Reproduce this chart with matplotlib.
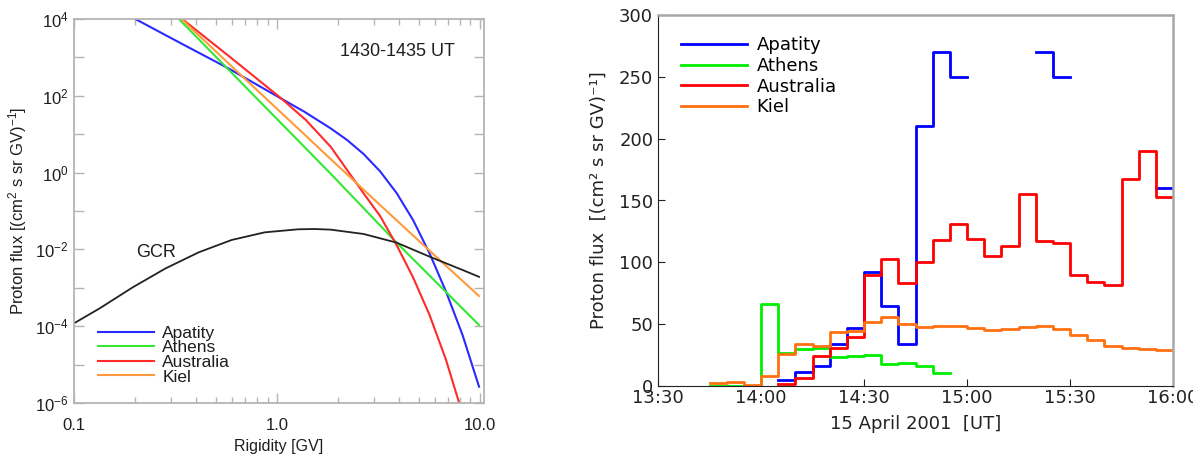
import numpy as np
import pandas as pd
import matplotlib
matplotlib.use("Agg")
import matplotlib.pyplot as plt
import matplotlib.dates as mdates
from matplotlib.ticker import FixedLocator, FuncFormatter, NullFormatter

# ---------------- spectra (left panel) ----------------
apatity_R = [0.2006, 0.3414, 0.5768, 1.011, 1.365, 1.841, 2.220, 2.677, 3.228,
             3.893, 4.693, 5.659, 6.826, 8.231, 9.925]
apatity_F = [1e4, 2234, 519, 94.9, 38.6, 14.2, 7.06, 3.05, 1.08,
             0.294, 0.0583, 7.9e-3, 7.9e-4, 5.9e-5, 2.66e-6]

athens_R = [0.3289, 1.841, 3.893, 9.925]
athens_F = [1e4, 0.937, 0.01496, 1.07e-4]

australia_R = [0.3414, 0.4437, 0.5986, 0.7929, 1.050, 1.390, 1.841, 2.220, 2.677,
               3.228, 3.893, 4.693, 5.659, 6.826, 7.930]
australia_F = [1e4, 3334, 946, 285, 85.9, 23.4, 4.73, 1.169, 0.288,
               0.0741, 0.0130, 1.87e-3, 1.96e-4, 1.32e-5, 9.8e-7]

kiel_R = [0.3389, 0.5986, 1.050, 1.841, 3.228, 5.659, 9.925]
kiel_F = [1e4, 585, 36.4, 2.26, 0.143, 9.27e-3, 6.1e-4]

gcr_R = [0.100, 0.1339, 0.1948, 0.2831, 0.4118, 0.5986, 0.8705, 1.266, 1.527,
         1.841, 2.677, 3.893, 5.659, 8.231, 9.925]
gcr_F = [1.19e-4, 2.92e-4, 1.03e-3, 3.21e-3, 8.39e-3, 0.0176, 0.0278, 0.0333, 0.0340,
         0.0327, 0.0252, 0.0150, 6.48e-3, 2.91e-3, 1.93e-3]

# ---------------- time profiles (right panel), 5-min bins ----------------
bin_start = pd.date_range("2001-04-15 13:45", "2001-04-15 15:55", freq="5min")
nan = np.nan
apatity_t = [nan, nan, nan, nan, 5, 11, 16, 34, 47, 92, 65, 34, 210, 270, 250,
             nan, nan, nan, nan, 270, 250, nan, nan, nan, nan, nan, 160]
athens_t = [0.3, 0.3, 0.3, 66, 27, 30, 31, 23.5, 24, 25, 18, 18.5, 16, 10.8,
            nan, nan, nan, nan, nan, nan, nan, nan, nan, nan, nan, nan, nan]
australia_t = [nan, nan, nan, nan, 1.5, 6.5, 24, 31, 39.5, 90, 103, 83, 100, 118,
               131, 118.5, 105, 113.5, 155.5, 117, 116, 90, 84, 82, 167, 190, 153]
kiel_t = [2.2, 3.2, 0.5, 8, 25.5, 34, 32, 43.5, 44.5, 52, 55.5, 50, 48, 48.8,
          48.2, 46.6, 45.3, 45.8, 47.7, 48.2, 46.4, 41.5, 37.2, 32.6, 31, 30, 28.8]

stations = ["Apatity", "Athens", "Australia", "Kiel"]
left_colors = ["#2a2aff", "#33e833", "#ff2a2a", "#ff9a3c"]
right_colors = ["#0000ff", "#00ee00", "#ff0000", "#ff7010"]

fig = plt.figure(figsize=(11.93, 4.57), dpi=100)

# ===================== left: rigidity spectra =====================
plt.rcParams["mathtext.fontset"] = "custom"
plt.rcParams["mathtext.rm"] = "Liberation Sans"
plt.rcParams["mathtext.it"] = "Liberation Sans:italic"
plt.rcParams["mathtext.bf"] = "Liberation Sans:bold"

sans = "Liberation Sans"
txt = "#1e1e1e"
frame = "#b4b4b4"

axL = fig.add_axes([74 / 1193, 1 - 403 / 457, 410 / 1193, 384 / 457])
for R, F, c, lab in zip([apatity_R, athens_R, australia_R, kiel_R],
                        [apatity_F, athens_F, australia_F, kiel_F],
                        left_colors, stations):
    axL.plot(R, F, color=c, lw=1.5, label=lab)
axL.plot(gcr_R, gcr_F, color="#222222", lw=1.3)

axL.set_xscale("log")
axL.set_yscale("log")
axL.set_xlim(0.1, 10.5)
axL.set_ylim(1e-6, 1e4)
for s in axL.spines.values():
    s.set_color(frame)
    s.set_linewidth(1.3)

axL.xaxis.set_major_locator(FixedLocator([0.1, 1.0, 10.0]))
axL.xaxis.set_major_formatter(FuncFormatter(lambda v, p: f"{v:.1f}"))
axL.xaxis.set_minor_locator(FixedLocator([k * 10.0 ** e for e in (-1, 0) for k in range(2, 10)]))
axL.xaxis.set_minor_formatter(NullFormatter())
axL.yaxis.set_major_locator(FixedLocator([10.0 ** e for e in range(-6, 5)]))
axL.yaxis.set_major_formatter(FuncFormatter(
    lambda v, p: ("10$^{%d}$" % round(np.log10(v))) if round(np.log10(v)) % 2 == 0 else ""))
axL.yaxis.set_minor_locator(FixedLocator([]))
axL.tick_params(which="both", direction="in", top=True, right=True, colors=frame,
                labelcolor=txt, labelsize=12)
axL.tick_params(which="major", length=7, width=1.0)
axL.tick_params(which="minor", length=4, width=1.0)
for lbl in axL.get_xticklabels() + axL.get_yticklabels():
    lbl.set_family(sans)
axL.tick_params(axis="x", pad=11)
axL.tick_params(axis="y", pad=4)

axL.set_xlabel("Rigidity [GV]", family=sans, fontsize=11.5, color=txt, labelpad=4)
axL.set_ylabel("Proton flux [(cm$^{2}$ s sr GV)$^{-1}$]", family=sans, fontsize=12,
               color=txt, labelpad=4)
axL.text(0.79, 0.915, "1430-1435 UT", transform=axL.transAxes, family=sans,
         fontsize=13, color=txt, ha="center", va="center")
axL.text(0.2, 0.393, "GCR", transform=axL.transAxes, family=sans,
         fontsize=13, color=txt, ha="center", va="center")
legL = axL.legend(loc="lower left", bbox_to_anchor=(0.042, 0.03), frameon=False,
                  prop={"family": sans, "size": 12.5}, handlelength=3.2,
                  handletextpad=0.5, labelspacing=-0.03, borderaxespad=0)
for t in legL.get_texts():
    t.set_color(txt)

# ===================== right: time profiles =====================
axR = fig.add_axes([658 / 1193, 1 - 386 / 457, 515 / 1193, 371 / 457])
edges = list(bin_start) + [bin_start[-1] + pd.Timedelta(minutes=5)]
for vals, c, lab in zip([apatity_t, athens_t, australia_t, kiel_t], right_colors, stations):
    y = list(vals) + [vals[-1]]
    axR.step(edges, y, where="post", color=c, lw=2.0, label=lab)

axR.set_xlim(pd.Timestamp("2001-04-15 13:30"), pd.Timestamp("2001-04-15 16:00"))
axR.set_ylim(0, 300)
axR.xaxis.set_major_locator(mdates.MinuteLocator(byminute=[0, 30]))
axR.xaxis.set_major_formatter(mdates.DateFormatter("%H:%M"))
axR.yaxis.set_major_locator(FixedLocator([0, 50, 100, 150, 200, 250, 300]))
axR.tick_params(direction="in", length=5, labelsize=13, colors="#222222")
axR.tick_params(axis="x", pad=2)
axR.spines["left"].set_color("#222222")
axR.spines["bottom"].set_color("#222222")
axR.spines["top"].set_color("#a8a8a8")
axR.spines["right"].set_color("#a8a8a8")
axR.spines["top"].set_linewidth(1.8)
axR.spines["right"].set_linewidth(1.8)
axR.set_xlabel("15 April 2001  [UT]", fontsize=13, color="#222222", labelpad=6)
axR.set_ylabel("Proton flux  [(cm\u00b2 s sr GV)\u207b\u00b9]", fontsize=13,
               color="#222222", labelpad=8)
axR.legend(loc="upper left", bbox_to_anchor=(0.03, 0.962), frameon=False,
           fontsize=13, handlelength=3.7, handletextpad=0.5, labelspacing=0.15,
           borderaxespad=0)

fig.savefig("out.png", dpi=100)
